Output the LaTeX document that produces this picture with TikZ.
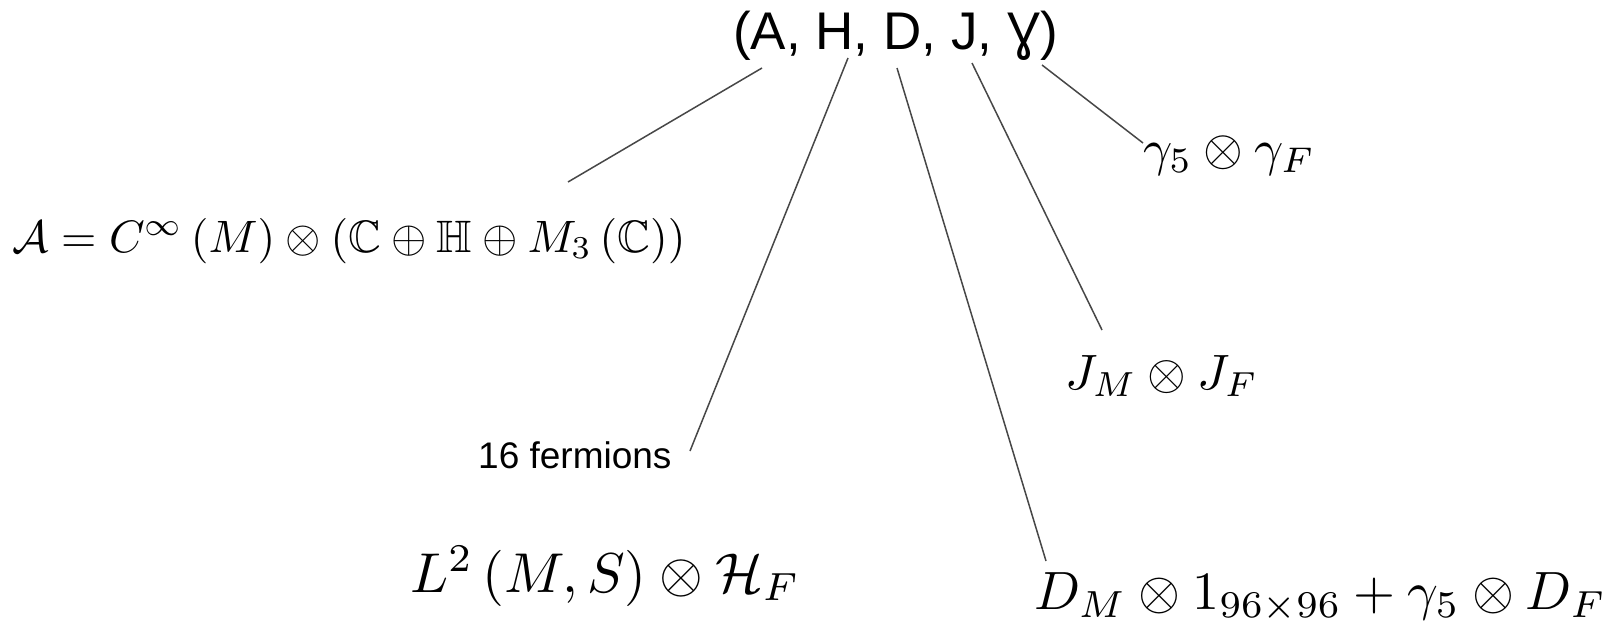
\documentclass[tikz,border=0pt]{standalone}
\usepackage{amsmath,amssymb}
\usepackage{graphicx}
\usepackage{fontspec}
\newfontfamily\arialf{Liberation Sans}
\begin{document}
\begin{tikzpicture}[x=1pt,y=-1pt,
  conn/.style={draw=black!72, line width=1.5pt},
  mathlbl/.style={inner sep=0pt, anchor=base west},
  txtlbl/.style={inner sep=0pt, anchor=base west, font=\arialf}]
\useasboundingbox (0,0) rectangle (1614,634);
% title
\node[txtlbl, font=\arialf\fontsize{53}{63}\selectfont] (title) at (733,50) {(A, H, D, J, Ɣ)};
% formulas
\node[mathlbl] (alg) at (12,252) {\resizebox{673pt}{!}{$\mathcal{A}=C^{\infty}\left(M\right)\otimes\left(\mathbb{C}\oplus\mathbb{H}\oplus M_3\left(\mathbb{C}\right)\right)$}};
\node[mathlbl] (hil) at (410,592) {\resizebox{390pt}{!}{$L^2\left(M,S\right)\otimes\mathcal{H}_F$}};
\node[txtlbl, font=\arialf\fontsize{37}{44}\selectfont] (ferm) at (478,468) {16 fermions};
\node[mathlbl] (dir) at (1034,609) {\resizebox{572pt}{!}{$D_M\otimes 1_{96\times 96}+\gamma_5\otimes D_F$}};
\node[mathlbl] (jop) at (1065,389) {\resizebox{193pt}{!}{$J_M\otimes J_F$}};
\node[mathlbl] (gam) at (1143,165) {\resizebox{172pt}{!}{$\gamma_5\otimes\gamma_F$}};
% connector endpoints
\coordinate (sA) at (762,68);
\coordinate (eA) at (568,182);
\coordinate (sH) at (848,58);
\coordinate (eH) at (690,451);
\coordinate (sD) at (897,68);
\coordinate (eD) at (1046,561);
\coordinate (sJ) at (972,63);
\coordinate (eJ) at (1102,330);
\coordinate (sG) at (1042,65);
\coordinate (eG) at (1143,143);
\draw[conn] (sA) -- (eA);
\draw[conn] (sH) -- (eH);
\draw[conn] (sD) -- (eD);
\draw[conn] (sJ) -- (eJ);
\draw[conn] (sG) -- (eG);
\end{tikzpicture}
\end{document}
